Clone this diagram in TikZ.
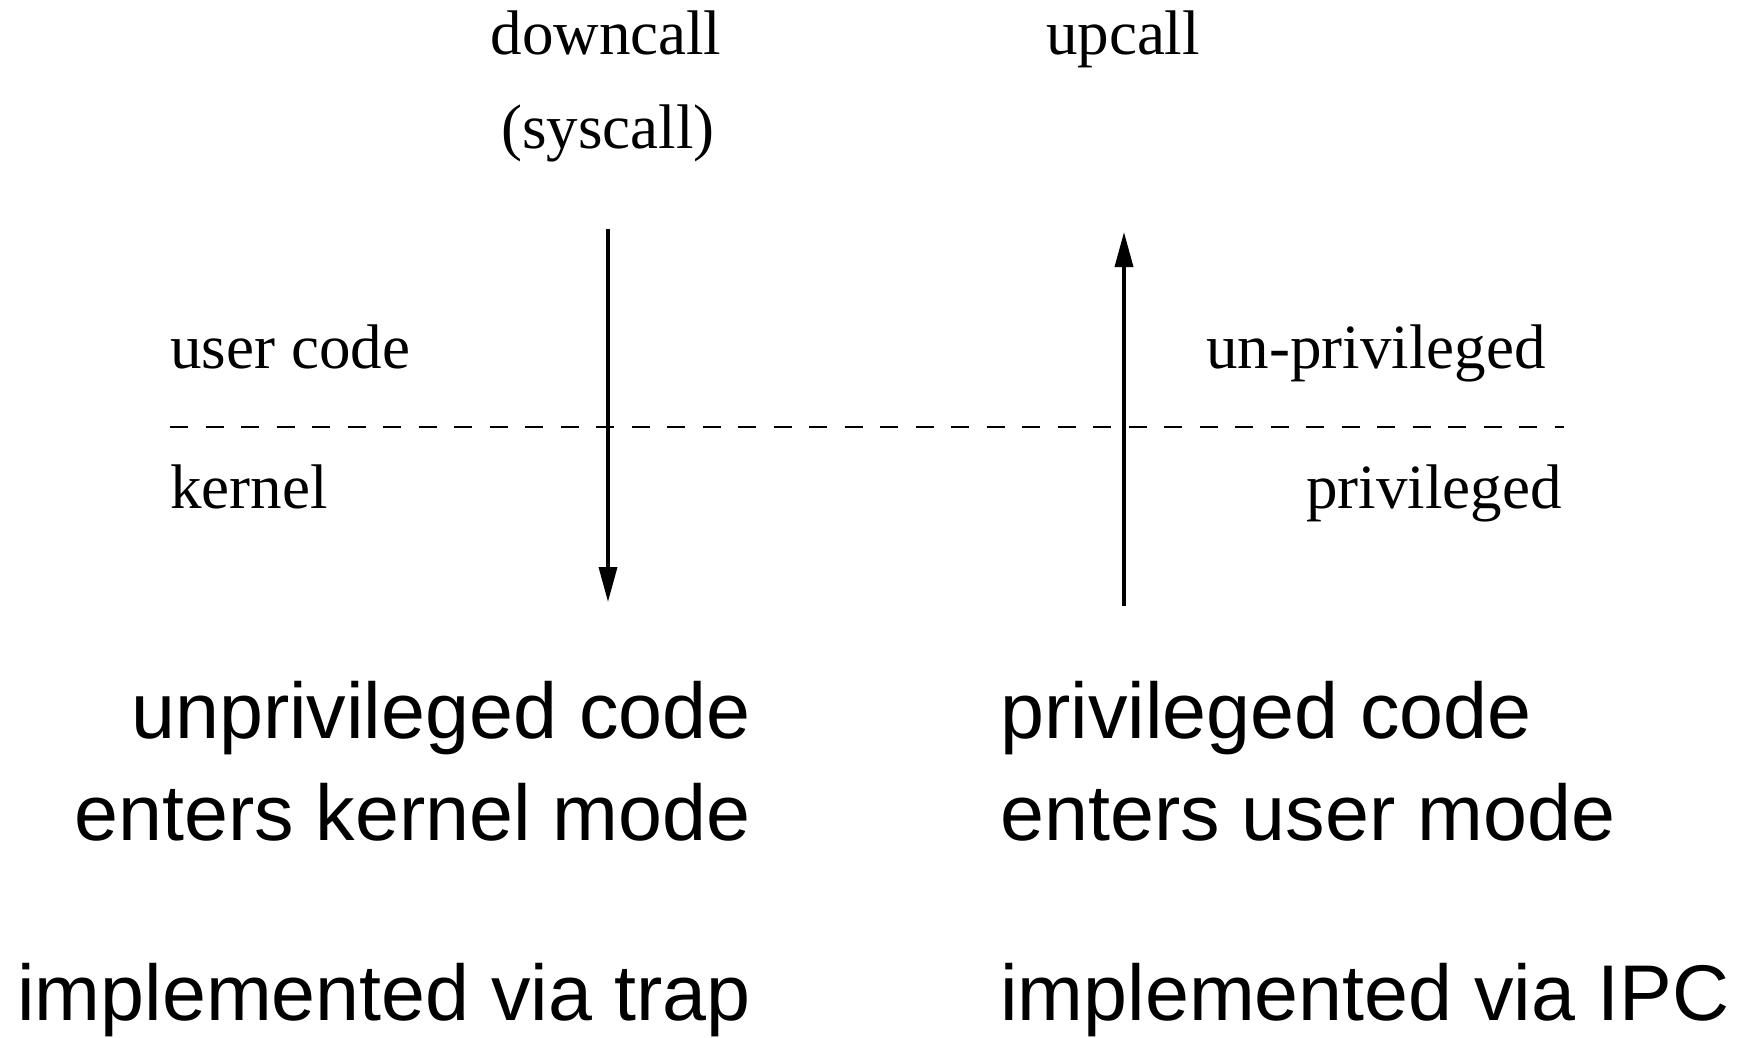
\documentclass[tikz,border=0pt]{standalone}
\usepackage{fontspec}
\setmainfont{Liberation Serif}
\newfontfamily\bigsans{Liberation Sans}
\usetikzlibrary{arrows.meta}

\begin{document}
\begin{tikzpicture}[x=0.5pt,y=-0.5pt,
  lbl/.style={inner sep=0pt,font=\fontsize{31.5pt}{36pt}\selectfont},
  note/.style={inner sep=0pt,font=\bigsans\fontsize{39.5pt}{46pt}\selectfont},
  callarrow/.style={line width=1.8pt,-{Triangle[width=9pt,length=17.5pt]}},
  boundary/.style={line width=1pt,dash pattern=on 9pt off 8.75pt}]

\useasboundingbox (0,0) rectangle (1742,1038);

% headings above the two calls
\node[lbl,anchor=base] (down) at (606,55) {downcall};
\node[lbl,anchor=base] (sys)  at (608,149) {(syscall)};
\node[lbl,anchor=base] (up)   at (1123,55) {upcall};

% mode labels on either side of the boundary
\node[lbl,anchor=base west] (user)   at (170,368) {user code};
\node[lbl,anchor=base west] (kern)   at (170,508) {kernel};
\node[lbl,anchor=base east] (unpriv) at (1546,368) {un-privileged};
\node[lbl,anchor=base east] (priv)   at (1562,508) {privileged};

% user/kernel boundary
\coordinate (bl) at (170,427);
\coordinate (br) at (1564,427);
\draw[boundary] (bl) -- (br);

% downcall and upcall arrows
\coordinate (dtop) at (608,229);
\coordinate (dbot) at (608,602);
\coordinate (ubot) at (1124,606);
\coordinate (utop) at (1124,232);
\draw[callarrow] (dtop) -- (dbot);
\draw[callarrow] (ubot) -- (utop);

% descriptions below
\node[note,anchor=base east] (l1) at (751,738)  {unprivileged code};
\node[note,anchor=base east] (l2) at (751,840)  {enters kernel mode};
\node[note,anchor=base east] (l3) at (751,1020) {implemented via trap};
\node[note,anchor=base west] (r1) at (1000,738)  {privileged code};
\node[note,anchor=base west] (r2) at (1000,840)  {enters user mode};
\node[note,anchor=base west] (r3) at (1000,1020) {implemented via IPC};
\end{tikzpicture}
\end{document}
